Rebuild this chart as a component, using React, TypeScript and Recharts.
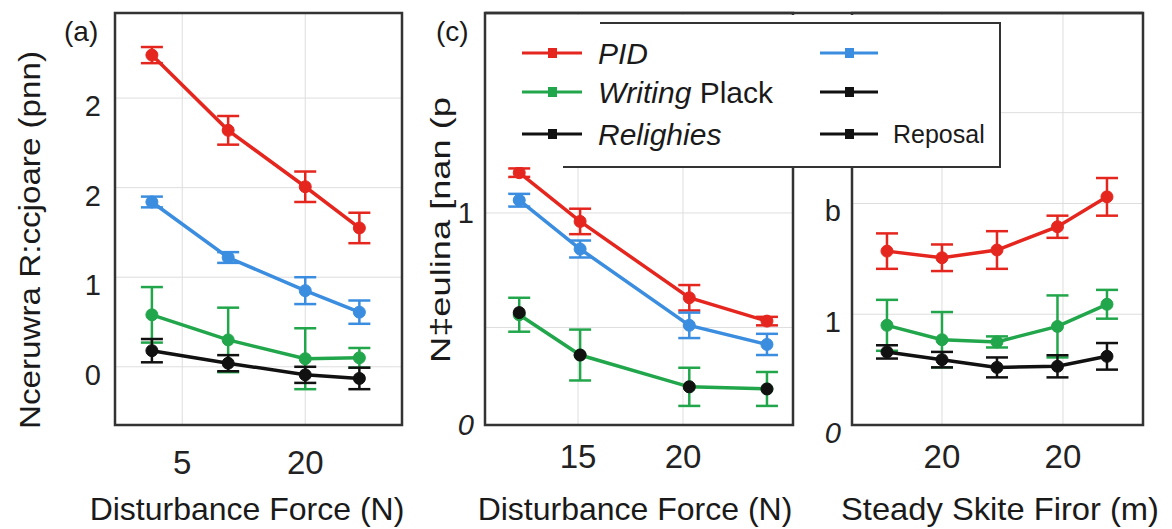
import React from 'react';
import { LineChart, Line, XAxis, YAxis, CartesianGrid, ErrorBar, ReferenceArea } from 'recharts';

const FONT = '"Liberation Sans", Arial, Helvetica, sans-serif';
const RED = '#e5261f';
const BLUE = '#3b8de0';
const GREEN = '#22a64b';
const BLACK = '#111111';
const FRAME = '#333333';

// ---------- Panel (a) ----------
const aForce = [1.3, 10.6, 20, 26.6];
const aPID = [3.48, 2.64, 2.01, 1.55];
const aPIDErr = [0.09, 0.16, 0.17, 0.17];
const aBlue = [1.84, 1.22, 0.85, 0.61];
const aBlueErr = [0.06, 0.06, 0.15, 0.13];
const aWriting = [0.58, 0.3, 0.09, 0.1];
const aWritingErr = [0.31, 0.36, 0.34, 0.11];
const aRelig = [0.18, 0.04, -0.09, -0.13];
const aReligErr = [0.13, 0.09, 0.09, 0.12];
const aXTicks = [5, 20];
const aXTickLabels = ['5', '20'];
const aYTicks = [0, 1, 2, 3];
const aYTickLabels = ['0', '1', '2', '2'];

// ---------- Panel (c) ----------
const cForce = [12.2, 15.1, 20.3, 24.0];
const cPID = [1.19, 0.96, 0.6, 0.49];
const cPIDErr = [0.02, 0.06, 0.06, 0.02];
const cBlue = [1.06, 0.83, 0.47, 0.38];
const cBlueErr = [0.03, 0.04, 0.06, 0.05];
const cWriting = [0.52, 0.33, 0.18, 0.17];
const cWritingErr = [0.08, 0.12, 0.09, 0.08];
const cRelig = [0.53, 0.33, 0.18, 0.17];
const cXTicks = [15, 20];
const cXTickLabels = ['15', '20'];
const cYTicks = [0, 0.46, 1];
const cYTickLabels = ['0', '', '1'];

// ---------- Panel (b) ----------
const bFiror = [1, 2, 3, 4.1, 5];
const bPID = [1.57, 1.51, 1.58, 1.79, 2.06];
const bPIDErr = [0.16, 0.12, 0.17, 0.1, 0.17];
const bWriting = [0.9, 0.77, 0.75, 0.89, 1.09];
const bWritingErr = [0.23, 0.25, 0.05, 0.28, 0.13];
const bRelig = [0.66, 0.59, 0.52, 0.53, 0.62];
const bReligErr = [0.06, 0.07, 0.09, 0.1, 0.12];
const bXTicks = [2, 4.2];
const bXTickLabels = ['20', '20'];
const bYTicks = [0, 1, 2, 2.82];
const bYTickLabels = ['0', '1', 'b', ''];

type Series = { key: string; color: string; values: number[]; errs?: number[]; hideLine?: boolean };

function buildRows(xs: number[], series: Series[]) {
  return xs.map((x, i) => {
    const row: Record<string, number> = { x };
    series.forEach((s) => {
      row[s.key] = s.values[i];
      if (s.errs) row[s.key + 'Err'] = s.errs[i];
    });
    return row;
  });
}

type PanelProps = {
  left: number;
  width: number;
  margin: { top: number; right: number; bottom: number; left: number };
  xs: number[];
  series: Series[];
  xDomain: [number, number];
  xTicks: number[];
  xLabels: string[];
  xTickMargin: number;
  yDomain: [number, number];
  yTicks: number[];
  yLabels: string[];
  yDy: number;
  yTickMargin: number;
  italicZero: boolean;
};

function Panel(p: PanelProps) {
  const rows = buildRows(p.xs, p.series);
  const renderYTick = (props: any) => {
    const idx = p.yTicks.indexOf(props.payload.value);
    const label = idx >= 0 ? p.yLabels[idx] : '';
    return (
      <text
        x={props.x}
        y={props.y + p.yDy}
        textAnchor="end"
        dominantBaseline="central"
        fontSize={29}
        fontFamily={FONT}
        fill="#222"
        fontStyle={p.italicZero && label === '0' ? 'italic' : 'normal'}
      >
        {label}
      </text>
    );
  };
  return (
    <div style={{ position: 'absolute', left: p.left, top: 0 }}>
      <LineChart width={p.width} height={529} data={rows} margin={p.margin}>
        <CartesianGrid stroke="#dedede" strokeWidth={1} />
        <XAxis
          type="number"
          dataKey="x"
          domain={p.xDomain}
          ticks={p.xTicks}
          interval={0}
          allowDataOverflow
          tickFormatter={(v: number, i: number) => p.xLabels[i]}
          axisLine={false}
          tickLine={false}
          tickSize={0}
          tickMargin={p.xTickMargin}
          height={40}
          tick={{ fontSize: 33, fill: '#222', fontFamily: FONT }}
        />
        <YAxis
          type="number"
          domain={p.yDomain}
          ticks={p.yTicks}
          interval={0}
          allowDataOverflow
          axisLine={false}
          tickLine={false}
          tickSize={0}
          tickMargin={p.yTickMargin}
          width={40}
          tick={renderYTick}
        />
        <ReferenceArea
          x1={p.xDomain[0]}
          x2={p.xDomain[1]}
          y1={p.yDomain[0]}
          y2={p.yDomain[1]}
          fill="none"
          fillOpacity={0}
          stroke={FRAME}
          strokeWidth={2.5}
        />
        {p.series.map((s) => (
          <Line
            key={s.key}
            type="linear"
            dataKey={s.key}
            stroke={s.hideLine ? 'none' : s.color}
            strokeWidth={3.5}
            dot={{ r: 6, fill: s.color, stroke: s.color, strokeWidth: 1 }}
            isAnimationActive={false}
          >
            {s.errs ? (
              <ErrorBar dataKey={s.key + 'Err'} width={11} stroke={s.color} strokeWidth={2.5} direction="y" />
            ) : null}
          </Line>
        ))}
      </LineChart>
    </div>
  );
}

const aSeries: Series[] = [
  { key: 'pid', color: RED, values: aPID, errs: aPIDErr },
  { key: 'blue', color: BLUE, values: aBlue, errs: aBlueErr },
  { key: 'writing', color: GREEN, values: aWriting, errs: aWritingErr },
  { key: 'relig', color: BLACK, values: aRelig, errs: aReligErr },
];
const cSeries: Series[] = [
  { key: 'pid', color: RED, values: cPID, errs: cPIDErr },
  { key: 'blue', color: BLUE, values: cBlue, errs: cBlueErr },
  { key: 'writing', color: GREEN, values: cWriting, errs: cWritingErr },
  { key: 'relig', color: BLACK, values: cRelig, hideLine: true },
];
const bSeries: Series[] = [
  { key: 'pid', color: RED, values: bPID, errs: bPIDErr },
  { key: 'writing', color: GREEN, values: bWriting, errs: bWritingErr },
  { key: 'relig', color: BLACK, values: bRelig, errs: bReligErr },
];

function LegendRow({ x1, x2, y, color }: { x1: number; x2: number; y: number; color: string }) {
  const mid = (x1 + x2) / 2;
  return (
    <g>
      <line x1={x1} x2={x2} y1={y} y2={y} stroke={color} strokeWidth={3} />
      <rect x={mid - 4} y={y - 5} width={9} height={10} fill={color} />
    </g>
  );
}

export default function App() {
  return (
    <div style={{ position: 'absolute', left: 0, top: 0, width: 1172, height: 529, background: '#fff', overflow: 'hidden' }}>
      <Panel
        left={0}
        width={420}
        margin={{ top: 13, right: 18, bottom: 64, left: 75 }}
        xs={aForce}
        series={aSeries}
        xDomain={[-3.2, 31.8]}
        xTicks={aXTicks}
        xLabels={aXTickLabels}
        xTickMargin={26}
        yDomain={[-0.65, 3.95]}
        yTicks={aYTicks}
        yLabels={aYTickLabels}
        yDy={8}
        yTickMargin={14}
        italicZero={false}
      />
      <Panel
        left={420}
        width={390}
        margin={{ top: 13, right: 17, bottom: 64, left: 25 }}
        xs={cForce}
        series={cSeries}
        xDomain={[10.57, 25.24]}
        xTicks={cXTicks}
        xLabels={cXTickLabels}
        xTickMargin={20}
        yDomain={[0, 1.943]}
        yTicks={cYTicks}
        yLabels={cYTickLabels}
        yDy={0}
        yTickMargin={11}
        italicZero={true}
      />
      <Panel
        left={810}
        width={362}
        margin={{ top: 13, right: 29, bottom: 64, left: 2 }}
        xs={bFiror}
        series={bSeries}
        xDomain={[0.364, 5.655]}
        xTicks={bXTicks}
        xLabels={bXTickLabels}
        xTickMargin={20}
        yDomain={[0, 3.72]}
        yTicks={bYTicks}
        yLabels={bYTickLabels}
        yDy={8}
        yTickMargin={11}
        italicZero={true}
      />
      <svg
        width={1172}
        height={529}
        style={{ position: 'absolute', left: 0, top: 0, pointerEvents: 'none' }}
        fontFamily={FONT}
      >
        {/* shared top frame line between (c) and (b) */}
        <line x1={485} x2={1143} y1={13} y2={13} stroke={FRAME} strokeWidth={2.5} />
        {/* legend */}
        <rect x={505} y={15} width={495} height={152} fill="#ffffff" />
        <line x1={600} x2={1001} y1={23} y2={23} stroke={FRAME} strokeWidth={2} />
        <line x1={1000} x2={1000} y1={23} y2={167} stroke={FRAME} strokeWidth={2} />
        <line x1={563} x2={1001} y1={167} y2={167} stroke={FRAME} strokeWidth={2} />
        <LegendRow x1={522} x2={582} y={53} color={RED} />
        <LegendRow x1={522} x2={582} y={92} color={GREEN} />
        <LegendRow x1={522} x2={582} y={134} color={BLACK} />
        <LegendRow x1={820} x2={878} y={53} color={BLUE} />
        <LegendRow x1={820} x2={878} y={92} color={BLACK} />
        <LegendRow x1={820} x2={878} y={134} color={BLACK} />
        <text x={598} y={64} fontSize={30} fontStyle="italic" fill="#1a1a1a">PID</text>
        <text x={598} y={103} fontSize={30} fill="#1a1a1a">
          <tspan fontStyle="italic">Writing</tspan>
          <tspan> Plack</tspan>
        </text>
        <text x={598} y={145} fontSize={30} fontStyle="italic" fill="#1a1a1a">Relighies</text>
        <text x={893} y={143} fontSize={25} fill="#1a1a1a">Reposal</text>

        {/* panel labels */}
        <text x={64} y={41} fontSize={28} fill="#1a1a1a">(a)</text>
        <text x={436} y={41} fontSize={28} fill="#1a1a1a">(c)</text>

        {/* y-axis titles */}
        <text
          transform="translate(29,240) rotate(-90)"
          textAnchor="middle"
          dominantBaseline="central"
          fontSize={30}
          textLength={378}
          lengthAdjust="spacingAndGlyphs"
          fill="#1a1a1a"
        >
          Nceruwra R:ccjoare (pnn)
        </text>
        <text
          transform="translate(440,230) rotate(-90)"
          textAnchor="middle"
          dominantBaseline="central"
          fontSize={28}
          textLength={266}
          lengthAdjust="spacingAndGlyphs"
          fill="#1a1a1a"
        >
          N‡eulina [nan (p
        </text>

        {/* x-axis titles */}
        <text x={247} y={520} textAnchor="middle" fontSize={32} fill="#1a1a1a">Disturbance Force (N)</text>
        <text x={635} y={520} textAnchor="middle" fontSize={32} fill="#1a1a1a">Disturbance Force (N)</text>
        <text x={1000} y={520} textAnchor="middle" fontSize={32} textLength={318} lengthAdjust="spacingAndGlyphs" fill="#1a1a1a">Steady Skite Firor (m)</text>
      </svg>
    </div>
  );
}
